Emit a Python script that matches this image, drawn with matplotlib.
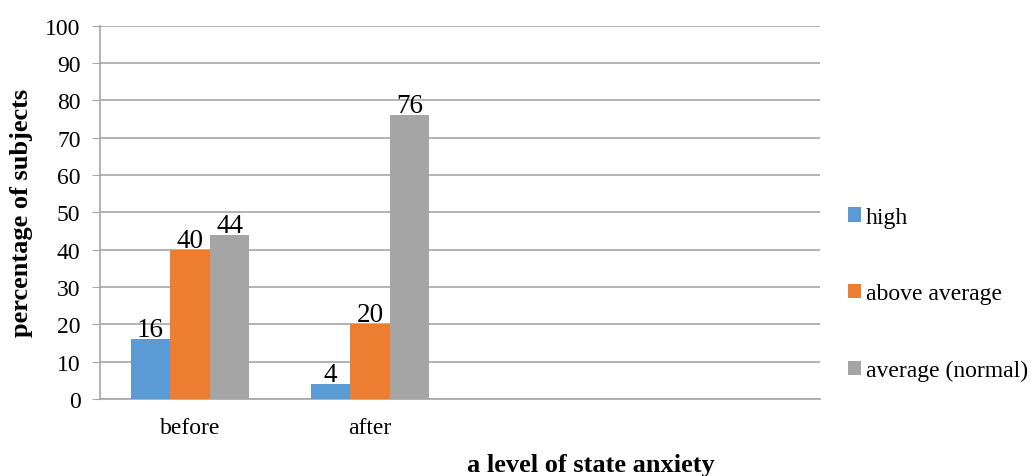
import matplotlib
matplotlib.use("Agg")
import matplotlib.pyplot as plt
import numpy as np

categories = ["before", "after", "", ""]
series_names = ["high", "above average", "average (normal)"]
high = [16, 4, None, None]
above_average = [40, 20, None, None]
average_normal = [44, 76, None, None]
yticks = [0, 10, 20, 30, 40, 50, 60, 70, 80, 90, 100]
colors = ["#5B9BD5", "#ED7D31", "#A5A5A5"]

plt.rcParams['font.family'] = ['Liberation Serif', 'DejaVu Serif']

fig = plt.figure(figsize=(10.32, 4.77), dpi=100)
ax = fig.add_axes([100/1032, 1 - 400/477, 720/1032, (400-26.6)/477])

x = np.arange(len(categories))
bw = 0.22
all_series = [high, above_average, average_normal]
for i, (vals, name, c) in enumerate(zip(all_series, series_names, colors)):
    xs = [xi + (i - 1) * bw for xi, v in zip(x, vals) if v is not None]
    vs = [v for v in vals if v is not None]
    bars = ax.bar(xs, vs, width=bw, color=c, label=name, zorder=3)
    for b, v in zip(bars, vs):
        ax.annotate(f"{v}", (b.get_x() + b.get_width()/2, v), xytext=(0, 2.2),
                    textcoords="offset points", ha="center", va="baseline",
                    fontsize=19.5, color="#000000")

ax.set_xlim(-0.5, len(categories) - 0.5)
ax.set_ylim(0, 100)
ax.set_yticks(yticks)
ax.set_yticklabels([str(t) for t in yticks], fontsize=17)
ax.set_xticks(x)
ax.set_xticklabels(categories, fontsize=17)
ax.tick_params(axis='x', length=0, pad=13)
ax.tick_params(axis='y', length=6, color="#A6A6A6", pad=8)
ax.yaxis.grid(True, color="#A6A6A6", linewidth=1.2, zorder=0)
ax.set_axisbelow(True)
for s in ["top", "right"]:
    ax.spines[s].set_visible(False)
for s in ["left", "bottom"]:
    ax.spines[s].set_color("#A6A6A6")
    ax.spines[s].set_linewidth(1.2)

ax.set_ylabel("percentage of subjects", fontsize=19, fontweight="bold")
ax.yaxis.set_label_coords((33 - 100) / 720, 0.5)
fig.text(591/1032, 1 - 465.5/477, "a level of state anxiety", fontsize=19,
         fontweight="bold", ha="center", va="center")

leg = fig.legend(loc="center left", bbox_to_anchor=(836/1032, 1 - 295/477),
                 frameon=False, fontsize=17, handlelength=0.55, handleheight=0.55,
                 handletextpad=0.2, labelspacing=2.35, borderpad=0)

fig.savefig("out.png", dpi=100)
